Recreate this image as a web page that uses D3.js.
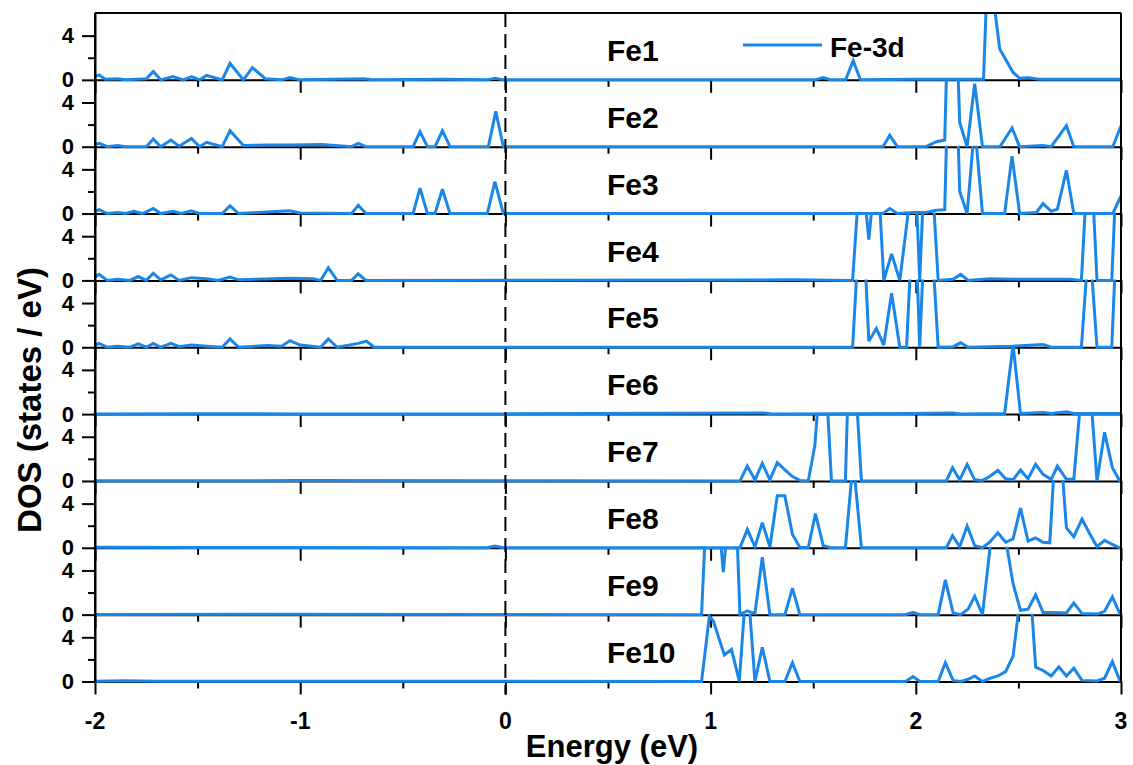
<!DOCTYPE html>
<html><head><meta charset="utf-8">
<script src="https://cdn.jsdelivr.net/npm/d3@7"></script>
<style>
body{margin:0;background:#fff}
text{font-family:"Liberation Sans",Arial,sans-serif;font-weight:bold;fill:#000}
</style>
</head><body>
<svg id="c" width="1133" height="765"></svg>
<script>
// ---- data: [energy (eV), DOS (states/eV)] vertices ----
const fe1 = [[-2.0,0.3],[-1.98,0.45],[-1.95,0.05],[-1.89,0.1],[-1.85,0.0],[-1.75,0.1],[-1.716,0.75],[-1.68,0.0],[-1.62,0.3],[-1.57,0.0],[-1.529,0.3],[-1.49,0.0],[-1.456,0.4],[-1.38,0.0],[-1.342,1.5],[-1.277,0.0],[-1.233,1.1],[-1.17,0.1],[-1.09,0.0],[-1.05,0.2],[-1.0,0.0],[-0.69,0.1],[-0.65,0.0],[-0.30,0.05],[-0.09,0.0],[-0.051,0.15],[-0.01,0.0],[1.51,0.0],[1.549,0.2],[1.585,0.0],[1.658,0.0],[1.695,1.73],[1.73,0.0],[1.99,0.05],[2.33,0.05],[2.352,11.2],[2.409,2.8],[2.474,0.67],[2.506,0.15],[2.547,0.2],[2.6,0.05],[3.0,0.05]];
const fe2 = [[-2.0,0.2],[-1.98,0.3],[-1.94,0.0],[-1.89,0.1],[-1.85,0.0],[-1.75,0.0],[-1.716,0.7],[-1.68,0.0],[-1.63,0.6],[-1.59,0.05],[-1.53,0.75],[-1.49,0.0],[-1.456,0.4],[-1.38,0.0],[-1.342,1.45],[-1.277,0.1],[-1.16,0.15],[-1.05,0.15],[-0.895,0.2],[-0.75,0.0],[-0.717,0.3],[-0.68,0.0],[-0.45,0.0],[-0.416,1.36],[-0.38,0.0],[-0.343,0.0],[-0.307,1.45],[-0.27,0.0],[-0.083,0.0],[-0.047,3.2],[-0.01,0.0],[1.84,0.0],[1.873,1.03],[1.91,0.0],[2.05,0.0],[2.10,0.45],[2.141,0.6],[2.157,12],[2.196,12],[2.214,2.2],[2.25,0.0],[2.287,5.7],[2.325,0.0],[2.41,0.0],[2.469,1.7],[2.506,0.0],[2.62,0.1],[2.66,0.0],[2.734,1.9],[2.77,0.0],[2.96,0.0],[3.0,1.9]];
const fe3 = [[-2.0,0.2],[-1.98,0.35],[-1.94,0.0],[-1.89,0.1],[-1.85,0.0],[-1.81,0.2],[-1.77,0.0],[-1.716,0.45],[-1.68,0.0],[-1.62,0.2],[-1.58,0.0],[-1.53,0.25],[-1.49,0.0],[-1.38,0.0],[-1.342,0.7],[-1.30,0.0],[-1.16,0.15],[-1.05,0.25],[-1.0,0.05],[-0.75,0.0],[-0.717,0.75],[-0.68,0.0],[-0.45,0.0],[-0.416,2.3],[-0.38,0.0],[-0.343,0.0],[-0.307,2.2],[-0.27,0.0],[-0.088,0.0],[-0.051,2.9],[-0.01,0.0],[1.84,0.0],[1.873,0.45],[1.91,0.0],[1.99,0.1],[2.05,0.1],[2.10,0.3],[2.141,0.35],[2.157,12],[2.198,12],[2.214,2.0],[2.25,0.0],[2.287,8],[2.325,0.0],[2.433,0.0],[2.469,5.2],[2.506,0.0],[2.588,0.1],[2.62,0.9],[2.66,0.2],[2.69,0.4],[2.734,3.9],[2.77,0.0],[2.96,0.0],[3.0,1.6]];
const fe4 = [[-2.0,0.3],[-1.98,0.55],[-1.94,0.0],[-1.89,0.1],[-1.83,0.0],[-1.789,0.35],[-1.75,0.0],[-1.716,0.65],[-1.68,0.05],[-1.63,0.5],[-1.59,0.0],[-1.53,0.25],[-1.456,0.15],[-1.40,0.0],[-1.342,0.3],[-1.30,0.05],[-1.05,0.2],[-0.937,0.15],[-0.90,0.0],[-0.863,1.15],[-0.82,0.0],[-0.75,0.0],[-0.717,0.6],[-0.68,0.0],[1.40,0.05],[1.692,0.0],[1.716,6.6],[1.756,6.6],[1.771,3.7],[1.786,6.6],[1.825,6.6],[1.844,0.0],[1.882,2.4],[1.922,0.0],[1.966,6.6],[2.005,6.6],[2.019,0.0],[2.034,6.6],[2.088,6.6],[2.109,0.0],[2.182,0.1],[2.219,0.55],[2.255,0.0],[2.36,0.15],[2.474,0.1],[2.75,0.1],[2.807,0.0],[2.826,6.6],[2.866,6.6],[2.883,0.0],[2.955,0.0],[2.97,6.6],[3.0,6.6]];
const fe5 = [[-2.0,0.2],[-1.98,0.35],[-1.94,0.0],[-1.89,0.1],[-1.83,0.0],[-1.789,0.3],[-1.75,0.0],[-1.716,0.35],[-1.68,0.0],[-1.63,0.35],[-1.59,0.05],[-1.53,0.2],[-1.456,0.1],[-1.38,0.0],[-1.342,0.75],[-1.30,0.0],[-1.16,0.15],[-1.09,0.1],[-1.05,0.6],[-1.0,0.2],[-0.90,0.0],[-0.863,0.75],[-0.82,0.0],[-0.717,0.35],[-0.677,0.55],[-0.64,0.0],[1.692,0.0],[1.712,6.6],[1.756,6.6],[1.771,0.55],[1.808,1.7],[1.844,0.2],[1.882,4.9],[1.922,0.0],[1.955,0.0],[1.972,6.6],[2.007,6.6],[2.019,0.0],[2.034,6.6],[2.088,6.6],[2.109,0.0],[2.182,0.05],[2.219,0.4],[2.255,0.0],[2.474,0.1],[2.62,0.25],[2.66,0.0],[2.807,0.0],[2.832,6.6],[2.858,6.6],[2.883,0.0],[2.955,0.0],[2.97,6.6],[3.0,6.6]];
const fe6 = [[-2.0,0.02],[-1.5,0.03],[-1.0,0.02],[0.0,0.02],[1.26,0.1],[1.3,0.02],[1.99,0.05],[2.182,0.1],[2.22,0.02],[2.433,0.05],[2.474,6.3],[2.51,0.05],[2.62,0.15],[2.66,0.05],[2.734,0.2],[2.77,0.05],[3.0,0.05]];
const fe7 = [[-2.0,0.02],[-1.0,0.03],[0.0,0.02],[1.143,0.0],[1.179,1.36],[1.216,0.1],[1.252,1.6],[1.289,0.1],[1.325,1.67],[1.362,1.0],[1.399,0.4],[1.435,0.05],[1.476,0.0],[1.508,3.2],[1.522,6.6],[1.57,6.6],[1.589,0.0],[1.657,0.0],[1.667,6.6],[1.714,6.6],[1.735,0.0],[2.149,0.0],[2.179,1.2],[2.214,0.1],[2.25,1.5],[2.287,0.1],[2.325,0.05],[2.36,0.4],[2.40,0.97],[2.438,0.2],[2.474,0.1],[2.51,1.0],[2.547,0.2],[2.584,1.5],[2.62,0.6],[2.66,0.15],[2.69,1.35],[2.734,0.15],[2.77,0.15],[2.80,6.6],[2.857,6.6],[2.883,0.0],[2.92,4.4],[2.958,1.2],[2.994,0.0],[3.0,0.0]];
const fe8 = [[-2.0,0.05],[-1.5,0.03],[-0.09,0.0],[-0.05,0.15],[-0.01,0.0],[1.143,0.0],[1.179,1.67],[1.216,0.1],[1.252,2.27],[1.289,0.1],[1.325,4.7],[1.362,4.7],[1.399,1.2],[1.435,0.05],[1.476,0.0],[1.511,3.1],[1.549,0.2],[1.586,0.0],[1.657,0.0],[1.687,6.3],[1.703,6.3],[1.735,0.0],[2.149,0.0],[2.179,1.1],[2.214,0.1],[2.25,1.97],[2.287,0.2],[2.325,0.0],[2.36,0.5],[2.40,1.36],[2.438,0.5],[2.474,0.8],[2.51,3.6],[2.547,0.6],[2.584,0.9],[2.62,0.5],[2.653,0.45],[2.672,6.6],[2.715,6.6],[2.734,1.8],[2.77,1.0],[2.81,2.6],[2.847,1.3],[2.883,0.1],[2.92,0.67],[2.958,0.3],[2.994,0.0],[3.0,0.0]];
const fe9 = [[-2.0,0.02],[-1.2,0.03],[0.0,0.02],[0.956,0.0],[0.972,6.6],[1.049,6.6],[1.062,3.85],[1.075,6.6],[1.13,6.6],[1.143,0.0],[1.179,0.35],[1.216,0.1],[1.252,5.2],[1.289,0.0],[1.362,0.0],[1.399,2.4],[1.435,0.0],[1.95,0.0],[1.987,0.2],[2.02,0.0],[2.109,0.0],[2.144,3.15],[2.182,0.15],[2.219,0.0],[2.255,0.5],[2.287,1.67],[2.325,0.0],[2.365,6.6],[2.44,6.6],[2.474,2.8],[2.51,0.4],[2.547,0.5],[2.584,1.8],[2.62,0.2],[2.66,0.2],[2.734,0.15],[2.77,1.06],[2.81,0.1],[2.883,0.05],[2.92,0.3],[2.958,1.6],[2.994,0.1],[3.0,0.1]];
const fe10 = [[-2.0,0.02],[-1.85,0.06],[-1.7,0.02],[0.0,0.02],[0.956,0.0],[0.994,5.9],[1.013,5.5],[1.067,2.4],[1.102,2.9],[1.14,0.0],[1.165,6.6],[1.19,6.6],[1.216,0.0],[1.252,3.1],[1.289,0.0],[1.362,0.0],[1.399,1.7],[1.435,0.0],[1.95,0.0],[1.987,0.45],[2.02,0.0],[2.109,0.0],[2.144,1.7],[2.182,0.1],[2.219,0.0],[2.255,0.2],[2.287,0.5],[2.325,0.0],[2.364,0.3],[2.40,0.5],[2.438,0.9],[2.474,2.3],[2.502,6.6],[2.565,6.6],[2.584,1.3],[2.62,1.0],[2.66,0.5],[2.697,1.33],[2.734,0.5],[2.77,1.2],[2.81,0.1],[2.883,0.05],[2.92,0.3],[2.958,1.8],[2.994,0.1],[3.0,0.1]];

const panelLabels = ["Fe1","Fe2","Fe3","Fe4","Fe5","Fe6","Fe7","Fe8","Fe9","Fe10"];
const series = [fe1,fe2,fe3,fe4,fe5,fe6,fe7,fe8,fe9,fe10];
const xMajorTicks = [-2,-1,0,1,2,3];
const xMinorTicks = [-1.5,-0.5,0.5,1.5,2.5];
const yMajorTicks = [0,4];
const yMinorTicks = [2];
const legendLabel = "Fe-3d";
const xTitle = "Energy (eV)";
const yTitle = "DOS (states / eV)";

// ---- layout ----
const L = 95, R = 1121, T = 13, B = 681.5;
const n = series.length, ph = (B - T) / n;
const blue = "#1a86e8";
const svg = d3.select("#c");
const x = d3.scaleLinear().domain([-2, 3]).range([L, R]);
const fmt = d => String(d);

function styleAxis(g, fs){
  g.selectAll(".domain").attr("stroke","#000").attr("stroke-width",2);
  g.selectAll(".tick line").attr("stroke","#000").attr("stroke-width",2);
  g.selectAll("text").attr("font-size",fs).attr("font-family","'Liberation Sans',Arial,sans-serif").attr("font-weight","bold").attr("fill","#000");
}

const defs = svg.append("defs");
series.forEach((data, i) => {
  const y0 = T + i * ph, y1 = y0 + ph;
  const y = d3.scaleLinear().domain([0, 6.05]).range([y1, y0]);
  const g = svg.append("g");

  defs.append("clipPath").attr("id","cp"+i).append("rect")
    .attr("x", L).attr("y", y0 - 1).attr("width", R - L).attr("height", ph + 3);

  // bottom axis of panel (ticks pointing down)
  const ax = g.append("g").attr("transform",`translate(0,${y1})`)
    .call(d3.axisBottom(x).tickValues(xMajorTicks).tickSize(13).tickSizeOuter(0).tickFormat(""));
  styleAxis(ax, 22);
  const axm = g.append("g").attr("transform",`translate(0,${y1})`)
    .call(d3.axisBottom(x).tickValues(xMinorTicks).tickSize(7).tickSizeOuter(0).tickFormat(""));
  axm.select(".domain").remove();
  styleAxis(axm, 22);

  // data line
  g.append("path").datum(data)
    .attr("clip-path",`url(#cp${i})`)
    .attr("fill","none").attr("stroke",blue).attr("stroke-width",3).attr("stroke-linejoin","miter").attr("stroke-miterlimit",3)
    .attr("d", d3.line().x(d => x(d[0])).y(d => y(d[1])));

  // left axis
  const ay = g.append("g").attr("transform",`translate(${L},0)`)
    .call(d3.axisLeft(y).tickValues(yMajorTicks).tickSize(13).tickSizeOuter(0).tickPadding(8).tickFormat(fmt));
  styleAxis(ay, 22);
  const aym = g.append("g").attr("transform",`translate(${L},0)`)
    .call(d3.axisLeft(y).tickValues(yMinorTicks).tickSize(7).tickSizeOuter(0).tickFormat(""));
  aym.select(".domain").remove();
  styleAxis(aym, 22);

  // panel label
  g.append("text").attr("x", 607).attr("y", y0 + 48).attr("font-size", 30).text(panelLabels[i]);

  // x labels on last panel
  if (i === n - 1) {
    g.selectAll(".xl").data(xMajorTicks).join("text").attr("class","xl")
      .attr("x", d => x(d)).attr("y", y1 + 47).attr("text-anchor","middle")
      .attr("font-size", 23).text(fmt);
  }
});

// frame: top, right, left
svg.append("line").attr("x1",L).attr("x2",R).attr("y1",T).attr("y2",T).attr("stroke","#000").attr("stroke-width",2);
svg.append("line").attr("x1",R).attr("x2",R).attr("y1",T).attr("y2",B).attr("stroke","#000").attr("stroke-width",2);
svg.append("line").attr("x1",L).attr("x2",L).attr("y1",T).attr("y2",B).attr("stroke","#000").attr("stroke-width",2);

// dashed Fermi level line
svg.append("line").attr("x1",x(0)).attr("x2",x(0)).attr("y1",T).attr("y2",B+13)
  .attr("stroke","#000").attr("stroke-width",2).attr("stroke-dasharray","14,7");

// legend
svg.append("line").attr("x1",743).attr("x2",822).attr("y1",45).attr("y2",45).attr("stroke",blue).attr("stroke-width",3);
svg.append("text").attr("x",830).attr("y",57).attr("font-size",28).text(legendLabel);

// axis titles
svg.append("text").attr("x",612).attr("y",757).attr("text-anchor","middle").attr("font-size",31).text(xTitle);
svg.append("text").attr("transform","translate(41,400) rotate(-90)").attr("text-anchor","middle").attr("font-size",33).text(yTitle);
</script>
</body></html>
